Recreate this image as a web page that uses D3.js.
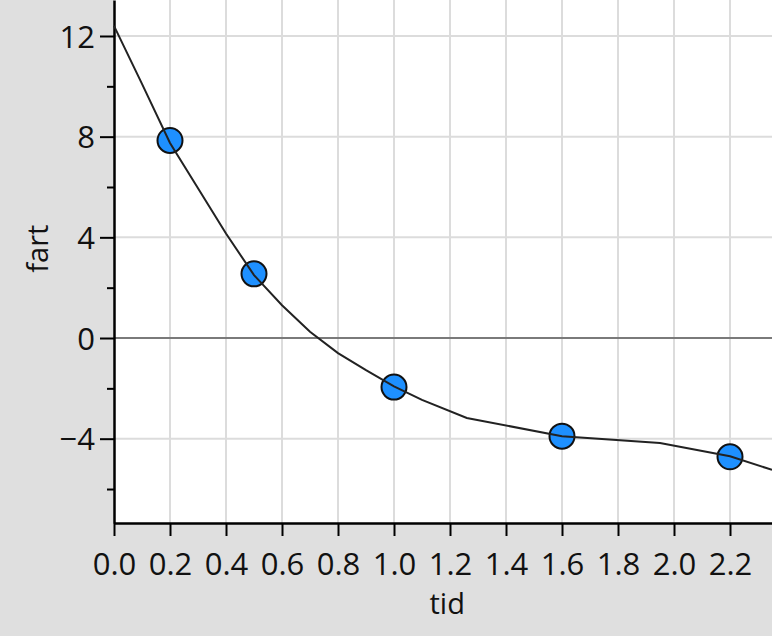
<!DOCTYPE html>
<html><head><meta charset="utf-8">
<script src="https://cdn.jsdelivr.net/npm/d3@7"></script>
<style>body{margin:0;background:#dfdfdf;}svg{display:block;}</style>
</head><body><svg id="c" width="772" height="636"></svg>
<script>
const pointX = [0.2, 0.5, 1.0, 1.6, 2.2];
const pointY = [7.85, 2.55, -1.95, -3.9, -4.72];
const curveX = [0, 0.1, 0.2, 0.3, 0.4, 0.5, 0.6, 0.7, 0.8, 0.9, 1.0, 1.1, 1.26, 1.6, 1.95, 2.2, 2.35];
const curveY = [12.4, 10.1, 7.75, 5.95, 4.15, 2.5, 1.3, 0.25, -0.6, -1.28, -1.92, -2.46, -3.18, -3.9, -4.17, -4.7, -5.24];
const xTicks = [0, 0.2, 0.4, 0.6, 0.8, 1.0, 1.2, 1.4, 1.6, 1.8, 2.0, 2.2];
const yMajor = [-4, 0, 4, 8, 12];
const yMinor = [-6, -2, 2, 6, 10];
const xLabel = "tid", yLabel = "fart";

const svg = d3.select("#c");
const L = 114, R = 772, T = 0, B = 523;
const x = d3.scaleLinear().domain([0, 2.35]).range([L, R]);
const y = d3.scaleLinear().domain([-7.35, 13.43]).range([B, T]);
const font = "'Open Sans', 'Noto Sans', sans-serif";

svg.append("rect").attr("width", 772).attr("height", 636).attr("fill", "#dfdfdf");
svg.append("rect").attr("x", L).attr("y", T).attr("width", R - L).attr("height", B - T).attr("fill", "#fff");

// grid
svg.append("g").selectAll("line").data(xTicks.filter(d => d > 0)).join("line")
  .attr("x1", d => x(d)).attr("x2", d => x(d)).attr("y1", T).attr("y2", B)
  .attr("stroke", "#dcdcdc").attr("stroke-width", 2);
svg.append("g").selectAll("line").data(yMajor.filter(d => d !== 0)).join("line")
  .attr("x1", L).attr("x2", R).attr("y1", d => y(d)).attr("y2", d => y(d))
  .attr("stroke", "#dcdcdc").attr("stroke-width", 2);
svg.append("line").attr("x1", L).attr("x2", R).attr("y1", y(0)).attr("y2", y(0))
  .attr("stroke", "#7a7a7a").attr("stroke-width", 2);

// axes
const xAxis = d3.axisBottom(x).tickValues(xTicks).tickFormat(d3.format(".1f")).tickSize(13).tickSizeOuter(0);
const gx = svg.append("g").attr("transform", `translate(0,${B})`).call(xAxis);
gx.select(".domain").attr("stroke", "#000").attr("stroke-width", 2.5);
gx.selectAll(".tick line").attr("stroke", "#000").attr("stroke-width", 2);
gx.selectAll(".tick text").attr("font-family", font).attr("font-size", 31).attr("fill", "#111").attr("dy", "0").attr("y", 52);

const yAxis = d3.axisLeft(y).tickValues(yMajor).tickFormat(d => d < 0 ? "\u2212" + Math.abs(d) : d).tickSize(14).tickSizeOuter(0);
const gy = svg.append("g").attr("transform", `translate(${L},0)`).call(yAxis);
gy.select(".domain").attr("stroke", "#000").attr("stroke-width", 2.5);
gy.selectAll(".tick line").attr("stroke", "#000").attr("stroke-width", 2);
gy.selectAll(".tick text").attr("font-family", font).attr("font-size", 31).attr("fill", "#111").attr("x", -19).attr("dy", "0.36em");
const yMinAxis = d3.axisLeft(y).tickValues(yMinor).tickFormat("").tickSize(7).tickSizeOuter(0);
const gy2 = svg.append("g").attr("transform", `translate(${L},0)`).call(yMinAxis);
gy2.select(".domain").remove();
gy2.selectAll(".tick line").attr("stroke", "#000").attr("stroke-width", 2);

// labels
svg.append("text").attr("x", x(1.19)).attr("y", 614).attr("text-anchor", "middle")
  .attr("font-family", font).attr("font-size", 29).attr("fill", "#111").text(xLabel);
svg.append("text").attr("transform", `translate(48,${y(3.55)}) rotate(-90)`).attr("text-anchor", "middle")
  .attr("font-family", font).attr("font-size", 29).attr("fill", "#111").text(yLabel);

// points
const plot = svg.append("g");
plot.selectAll("circle").data(pointX.map((v, i) => [v, pointY[i]])).join("circle")
  .attr("cx", d => x(d[0])).attr("cy", d => y(d[1])).attr("r", 12.5)
  .attr("fill", "#1e90ff").attr("stroke", "#111").attr("stroke-width", 2);

// curve
const line = d3.line().x(d => x(d[0])).y(d => y(d[1])).curve(d3.curveLinear);
plot.append("path").datum(curveX.map((v, i) => [v, curveY[i]]))
  .attr("d", line).attr("fill", "none").attr("stroke", "#222").attr("stroke-width", 2);
</script></body></html>
